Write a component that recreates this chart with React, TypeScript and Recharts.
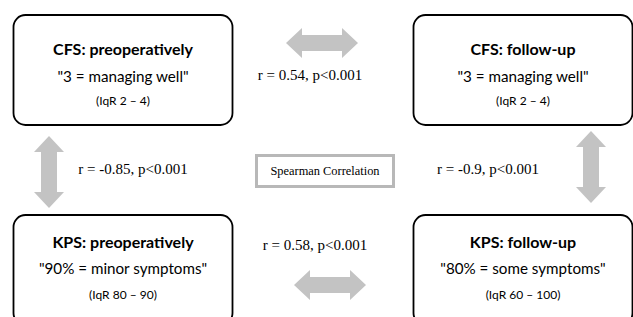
import { Scatter, ScatterChart, XAxis, YAxis } from "recharts";

// four measurements: column 0 = preoperatively, 1 = follow-up; row 0 = CFS, 1 = KPS
const NODE_TITLES = ["CFS: preoperatively", "CFS: follow-up", "KPS: preoperatively", "KPS: follow-up"];
const NODE_MEDIANS = ['"3 = managing well"', '"3 = managing well"', '"90% = minor symptoms"', '"80% = some symptoms"'];
const NODE_IQR = ["(IqR 2 – 4)", "(IqR 2 – 4)", "(IqR 80 – 90)", "(IqR 60 – 100)"];
const NODE_COL = [0, 1, 0, 1];
const NODE_ROW = [0, 0, 1, 1];

// spearman correlations between the measurements
const LINK_FROM = [0, 2, 0, 1];
const LINK_TO = [1, 3, 2, 3];
const LINK_R = [0.54, 0.58, -0.85, -0.9];
const LINK_P = ["<0.001", "<0.001", "<0.001", "<0.001"];

const W = 633;
const H = 317;
const ARROW_FILL = "#c3c3c3";
const SERIF = "'Liberation Serif', 'Times New Roman', serif";
const SANS = "Lato, 'Open Sans', sans-serif";

// text offsets inside the boxes (the lower boxes run off the page)
const ROW_TEXT = [
  { title: -22, median: 6, iqr: 30 },
  { title: -29, median: -2, iqr: 24 },
];

// arrow / label offsets from the midpoint of each link
const LINK_LAYOUT = [
  { ax: -1, ay: -27, lx: -13, ly: 5 },
  { ax: 7, ay: 15, lx: -8, ly: -25 },
  { ax: -74, ay: 2, lx: 10, ly: -1 },
  { ax: 68, ay: -3, lx: -35, ly: -1 },
];

const nodes = NODE_TITLES.map((title, i) => ({
  col: NODE_COL[i],
  row: NODE_ROW[i],
  title,
  median: NODE_MEDIANS[i],
  iqr: NODE_IQR[i],
}));

const links = LINK_FROM.map((from, i) => {
  const to = LINK_TO[i];
  return {
    id: i,
    col: (NODE_COL[from] + NODE_COL[to]) / 2,
    row: (NODE_ROW[from] + NODE_ROW[to]) / 2,
    horizontal: NODE_ROW[from] === NODE_ROW[to],
    label: `r = ${LINK_R[i]}, p${LINK_P[i]}`,
  };
});

function NodeBox(props: any) {
  const { cx, cy, payload } = props;
  const t = ROW_TEXT[payload.row];
  const w = 219;
  const h = 110;
  return (
    <g>
      <rect
        x={cx - w / 2}
        y={cy - h / 2}
        width={w}
        height={h}
        rx={12}
        ry={12}
        fill="#fff"
        stroke="#000"
        strokeWidth={1.8}
      />
      <text x={cx} y={cy + t.title} textAnchor="middle" dominantBaseline="central"
        fontFamily={SANS} fontWeight={700} fontSize={16} fill="#000">
        {payload.title}
      </text>
      <text x={cx} y={cy + t.median} textAnchor="middle" dominantBaseline="central"
        fontFamily={SANS} fontSize={15.2} fill="#000">
        {payload.median}
      </text>
      <text x={cx} y={cy + t.iqr} textAnchor="middle" dominantBaseline="central"
        fontFamily={SANS} fontSize={12} fill="#000">
        {payload.iqr}
      </text>
    </g>
  );
}

function LinkArrow(props: any) {
  const { cx, cy, payload } = props;
  const l = LINK_LAYOUT[payload.id];
  const x = cx + l.ax;
  const y = cy + l.ay;
  const len = 72;
  const head = 30;
  const shaft = 16;
  const hl = 16;
  const a = len / 2;
  // double headed block arrow along the local x axis
  const pts = [
    [-a, 0], [-a + hl, -head / 2], [-a + hl, -shaft / 2], [a - hl, -shaft / 2],
    [a - hl, -head / 2], [a, 0], [a - hl, head / 2], [a - hl, shaft / 2],
    [-a + hl, shaft / 2], [-a + hl, head / 2],
  ]
    .map(([px, py]) => (payload.horizontal ? `${x + px},${y + py}` : `${x + py},${y + px}`))
    .join(" ");
  return (
    <g>
      <polygon points={pts} fill={ARROW_FILL} />
      <text x={cx + l.lx} y={cy + l.ly} textAnchor="middle" dominantBaseline="central"
        fontFamily={SERIF} fontSize={15} fill="#000">
        {payload.label}
      </text>
    </g>
  );
}

export default function App() {
  return (
    <div style={{ position: "absolute", left: 0, top: 0, width: W, height: H, background: "#fff" }}>
      <ScatterChart width={W} height={H} margin={{ top: 0, right: 0, bottom: 0, left: 0 }}>
        <XAxis type="number" dataKey="col" domain={[-0.3075, 1.275]} allowDataOverflow hide />
        <YAxis type="number" dataKey="row" domain={[-0.35, 1.235]} allowDataOverflow reversed hide />
        <Scatter data={links} shape={LinkArrow} isAnimationActive={false} />
        <Scatter data={nodes} shape={NodeBox} isAnimationActive={false} />
      </ScatterChart>
      <div
        style={{
          position: "absolute",
          left: 255,
          top: 154,
          width: 140,
          height: 34,
          boxSizing: "border-box",
          border: "3px solid #b8b8b8",
          display: "flex",
          alignItems: "center",
          justifyContent: "center",
          fontFamily: SERIF,
          fontSize: 12.4,
          color: "#000",
        }}
      >
        Spearman Correlation
      </div>
    </div>
  );
}
